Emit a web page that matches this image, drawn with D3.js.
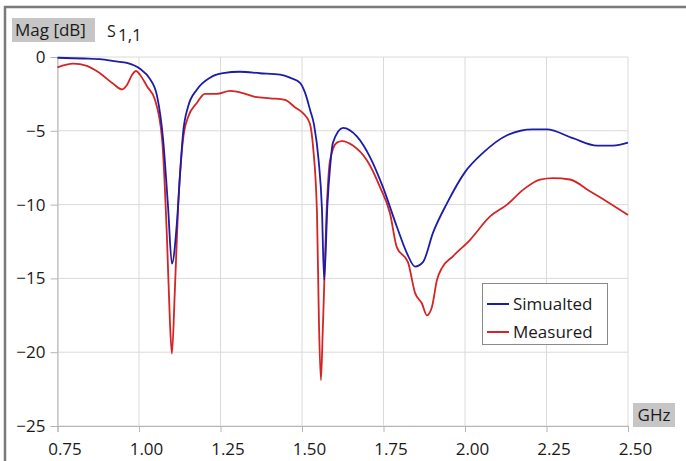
<!DOCTYPE html>
<html>
<head>
<meta charset="utf-8">
<script src="https://cdn.jsdelivr.net/npm/d3@7"></script>
<style>
  body { margin: 0; background: #fff; }
  text { font-family: "Open Sans", "DejaVu Sans", sans-serif; fill: #1a1a1a; }
</style>
</head>
<body>
<svg id="graph" width="686" height="461"></svg>
<script>
/*******************************************************************************************/
// Data

var xTicks = [0.75, 1.00, 1.25, 1.50, 1.75, 2.00, 2.25, 2.50];
var yTicks = [0, -5, -10, -15, -20, -25];

var simFreq = [0.75, 0.83, 0.88, 0.93, 0.963, 1.003, 1.034, 1.055, 1.074, 1.089, 1.101, 1.116, 1.126, 1.135, 1.150,
               1.178, 1.218, 1.258, 1.31, 1.371, 1.433, 1.463, 1.494, 1.509, 1.525, 1.537, 1.551, 1.561, 1.568, 1.578, 1.586,
               1.595, 1.626, 1.669, 1.709, 1.748, 1.791, 1.822, 1.847, 1.871, 1.902, 1.945, 2.0, 2.055, 2.129,
               2.208, 2.251, 2.331, 2.405, 2.454, 2.50];
var simMag  = [-0.05, -0.1, -0.15, -0.3, -0.4, -0.8, -1.5, -2.6, -5.6, -10.1, -14.0, -11.3, -7.9, -5.2, -3.4,
               -2.2, -1.4, -1.1, -1.0, -1.1, -1.2, -1.4, -1.75, -2.4, -3.6, -4.6, -7.0, -10.2, -15.1, -10.0, -7.5,
               -5.8, -4.8, -5.4, -6.8, -8.8, -11.5, -13.3, -14.2, -13.9, -11.9, -9.9, -7.8, -6.5, -5.3,
               -4.9, -4.9, -5.5, -6.0, -6.0, -5.8];

var measFreq = [0.75, 0.798, 0.84, 0.88, 0.92, 0.948, 0.963, 0.979, 0.991, 1.003, 1.025, 1.049, 1.071, 1.086, 1.095,
                1.101, 1.110, 1.120, 1.135, 1.150, 1.178, 1.202, 1.239, 1.279, 1.319, 1.356, 1.402, 1.448, 1.478,
                1.503, 1.524, 1.534, 1.546, 1.552, 1.558, 1.564, 1.577, 1.586, 1.607, 1.623, 1.656, 1.699, 1.739,
                1.770, 1.791, 1.825, 1.847, 1.868, 1.883, 1.899, 1.914, 1.929, 1.963, 2.015, 2.077, 2.129, 2.178,
                2.230, 2.270, 2.322, 2.383, 2.436, 2.50];
var measMag  = [-0.7, -0.45, -0.6, -1.1, -1.8, -2.2, -1.9, -1.2, -0.95, -1.2, -2.0, -2.9, -5.6, -12.4, -18,
                -20.1, -15.8, -10.2, -5.6, -4.1, -3.1, -2.5, -2.5, -2.3, -2.45, -2.7, -2.8, -2.9, -3.4,
                -3.8, -4.5, -6.1, -10.6, -18, -21.9, -18.3, -9.7, -7.0, -5.8, -5.7, -6.0, -7.0, -8.8,
                -10.6, -12.9, -13.9, -16.0, -16.7, -17.5, -16.9, -15.1, -14.3, -13.5, -12.4, -10.8, -10.0, -9.0,
                -8.3, -8.2, -8.3, -9.1, -9.8, -10.7];

var seriesNames = ['Simualted', 'Measured'];
var seriesColors = ['#1c1caa', '#d42424'];

/*******************************************************************************************/
// Scales and frame

var svg = d3.select('#graph');
var xScale = d3.scaleLinear().domain([0.75, 2.50]).range([57.5, 628]);
var yScale = d3.scaleLinear().domain([-25, 0]).range([426, 57]);

// outer border
svg.append('path').attr('d', 'M5,461 V7 H686').attr('fill', 'none')
   .attr('stroke', '#7a7a7a').attr('stroke-width', 2.5);

// grid
svg.append('g').selectAll('line').data(xTicks).enter().append('line')
   .attr('x1', function(d){ return xScale(d); }).attr('x2', function(d){ return xScale(d); })
   .attr('y1', yScale(0)).attr('y2', yScale(-25))
   .attr('stroke', '#dadada').attr('stroke-width', 1);
svg.append('g').selectAll('line').data(yTicks).enter().append('line')
   .attr('x1', xScale(0.75)).attr('x2', xScale(2.5))
   .attr('y1', function(d){ return yScale(d); }).attr('y2', function(d){ return yScale(d); })
   .attr('stroke', '#dadada').attr('stroke-width', 1);

// axes
var xAxis = svg.append('g').attr('transform', 'translate(0,' + yScale(-25) + ')')
   .call(d3.axisBottom(xScale).tickValues(xTicks).tickFormat(d3.format('.2f')).tickSize(6).tickPadding(11));
var yAxis = svg.append('g').attr('transform', 'translate(' + xScale(0.75) + ',0)')
   .call(d3.axisLeft(yScale).tickValues(yTicks).tickFormat(d3.format('d')).tickSize(7).tickPadding(5));

[xAxis, yAxis].forEach(function(ax){
  ax.select('.domain').attr('stroke', '#b5b5b5');
  ax.selectAll('.tick line').attr('stroke', '#b5b5b5');
  ax.selectAll('.tick text').style('font-size', '17px').style('font-family', '"Open Sans", sans-serif').attr('fill', '#1a1a1a');
});
xAxis.selectAll('.tick text').attr('dx', 7);

/*******************************************************************************************/
// Curves

var lineGen = d3.line().x(function(d){ return xScale(d[0]); }).y(function(d){ return yScale(d[1]); })
                .curve(d3.curveMonotoneX);

var simData = simFreq.map(function(f, i){ return [f, simMag[i]]; });
var measData = measFreq.map(function(f, i){ return [f, measMag[i]]; });

svg.append('path').datum(measData).attr('d', lineGen)
   .attr('fill', 'none').attr('stroke', seriesColors[1]).attr('stroke-width', 1.8);
svg.append('path').datum(simData).attr('d', lineGen)
   .attr('fill', 'none').attr('stroke', seriesColors[0]).attr('stroke-width', 1.8);

/*******************************************************************************************/
// Labels

svg.append('rect').attr('x', 12).attr('y', 18).attr('width', 83).attr('height', 24).attr('fill', '#c6c6c6');
svg.append('text').attr('x', 15).attr('y', 36).style('font-size', '17px').text('Mag [dB]');
svg.append('text').attr('x', 107).attr('y', 37).style('font-size', '16px').text('S');
svg.append('text').attr('x', 118).attr('y', 41).style('font-size', '17px').text('1,1');

svg.append('rect').attr('x', 633).attr('y', 403).attr('width', 42).attr('height', 24).attr('fill', '#c6c6c6');
svg.append('text').attr('x', 654).attr('y', 421).attr('text-anchor', 'middle').style('font-size', '17px').text('GHz');

// legend
var legend = svg.append('g');
legend.append('rect').attr('x', 482.5).attr('y', 283.5).attr('width', 125).attr('height', 61)
      .attr('fill', '#fff').attr('stroke', '#8a8a8a').attr('stroke-width', 1);
seriesNames.forEach(function(name, i){
  var y = 304 + i * 28;
  legend.append('line').attr('x1', 487).attr('x2', 509).attr('y1', y).attr('y2', y)
        .attr('stroke', seriesColors[i]).attr('stroke-width', 2);
  legend.append('text').attr('x', 513).attr('y', y + 6).style('font-size', '17px').text(name);
});
</script>
</body>
</html>
